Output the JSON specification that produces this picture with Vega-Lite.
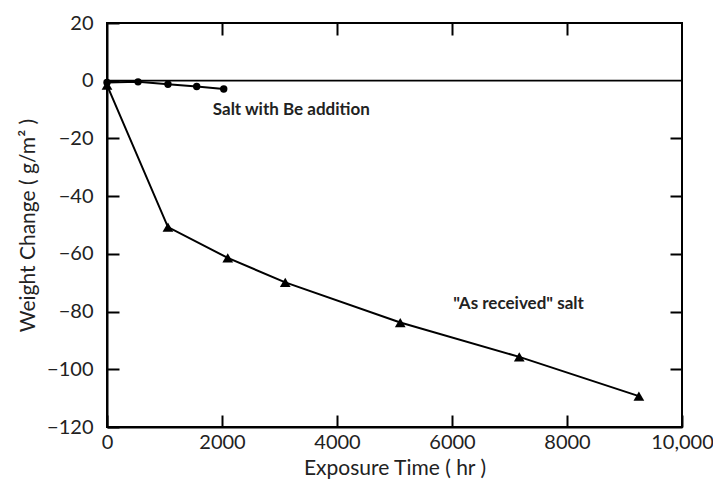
{
  "$schema": "https://vega.github.io/schema/vega-lite/v6.json",
  "width": 575,
  "height": 404,
  "autosize": {"type": "none"},
  "padding": {"left": 107, "top": 23, "right": 31, "bottom": 64},
  "background": "white",
  "config": {
    "view": {"stroke": "black", "strokeWidth": 2},
    "font": "Lato",
    "axis": {
      "grid": false,
      "domainColor": "black",
      "domainWidth": 2,
      "tickColor": "black",
      "tickWidth": 2,
      "tickSize": -12,
      "labelFont": "Lato",
      "labelFontSize": 20,
      "labelColor": "#222",
      "labelFlush": false,
      "titleFont": "Lato",
      "titleFontSize": 21,
      "titleFontWeight": "normal",
      "titleColor": "#222"
    }
  },
  "datasets": {
    "zero": [{"y": 0}],
    "received": [
      {"t": 0, "w": -1.5},
      {"t": 1060, "w": -50.7},
      {"t": 2100, "w": -61.4},
      {"t": 3100, "w": -69.9},
      {"t": 5100, "w": -83.8},
      {"t": 7170, "w": -95.7},
      {"t": 9250, "w": -109.3}
    ],
    "be": [
      {"t": 0, "w": -0.6},
      {"t": 540, "w": -0.4},
      {"t": 1060, "w": -1.2},
      {"t": 1560, "w": -2.0},
      {"t": 2030, "w": -2.9}
    ],
    "labels": [
      {"t": 1840, "w": -10.2, "label": "Salt with Be addition"},
      {"t": 6020, "w": -77.4, "label": "\"As received\" salt"}
    ]
  },
  "resolve": {"axis": {"x": "independent", "y": "independent"}},
  "layer": [
    {
      "data": {"name": "zero"},
      "mark": {"type": "rule", "color": "black", "strokeWidth": 1.8},
      "encoding": {
        "y": {"field": "y", "type": "quantitative", "scale": {"domain": [-120, 20]}, "axis": null}
      }
    },
    {
      "data": {"name": "received"},
      "mark": {"type": "line", "color": "black", "strokeWidth": 2},
      "encoding": {
        "x": {
          "field": "t", "type": "quantitative",
          "scale": {"domain": [0, 10000], "nice": false},
          "axis": {
            "orient": "bottom",
            "values": [0, 2000, 4000, 6000, 8000, 10000],
            "labelExpr": "datum.value == 10000 ? '10,000' : '' + datum.value",
            "labelPadding": 17,
            "title": "Exposure Time ( hr )",
            "titlePadding": 5
          }
        },
        "y": {
          "field": "w", "type": "quantitative",
          "scale": {"domain": [-120, 20], "nice": false},
          "axis": {
            "orient": "left",
            "values": [20, 0, -20, -40, -60, -80, -100, -120],
            "labelPadding": 26,
            "title": "Weight Change ( g/m² )",
            "titlePadding": 8
          }
        }
      }
    },
    {
      "data": {"name": "received"},
      "mark": {"type": "point", "shape": "triangle-up", "filled": true, "size": 115, "color": "black", "opacity": 1},
      "encoding": {
        "x": {
          "field": "t", "type": "quantitative",
          "axis": {"orient": "top", "values": [2000, 4000, 6000, 8000], "labels": false, "domain": false, "title": null}
        },
        "y": {
          "field": "w", "type": "quantitative",
          "axis": {"orient": "right", "values": [-20, -40, -60, -80, -100], "labels": false, "domain": false, "title": null}
        }
      }
    },
    {
      "data": {"name": "be"},
      "mark": {"type": "line", "color": "black", "strokeWidth": 2},
      "encoding": {
        "x": {"field": "t", "type": "quantitative", "axis": null},
        "y": {"field": "w", "type": "quantitative", "axis": null}
      }
    },
    {
      "data": {"name": "be"},
      "mark": {"type": "point", "shape": "circle", "filled": true, "size": 55, "color": "black", "opacity": 1},
      "encoding": {
        "x": {"field": "t", "type": "quantitative", "axis": null},
        "y": {"field": "w", "type": "quantitative", "axis": null}
      }
    },
    {
      "data": {"name": "labels"},
      "mark": {"type": "text", "align": "left", "baseline": "middle", "font": "Lato", "fontSize": 17, "fontWeight": "bold", "color": "#222"},
      "encoding": {
        "x": {"field": "t", "type": "quantitative", "axis": null},
        "y": {"field": "w", "type": "quantitative", "axis": null},
        "text": {"field": "label"}
      }
    }
  ]
}
